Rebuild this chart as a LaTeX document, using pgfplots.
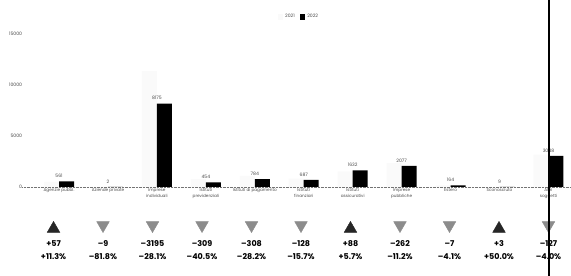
\documentclass[border=0pt]{standalone}
\usepackage{pgfplots}
\pgfplotsset{compat=1.18}
\usepackage{fontspec}
\setmainfont{Poppins}

\pgfplotstableread{
x    y2021  y2022
0    504    561
1    11     2
2    11370  8175
3    763    454
4    1092   784
5    815    687
6    1544   1632
7    2339   2077
8    171    164
9    6      9
10   3175   3048
}\datatable

\begin{document}
\begin{tikzpicture}
\begin{axis}[
  at={(22.3pt,89pt)}, anchor=south west,
  scale only axis, width=548.7pt, height=163.2pt,
  xmin=-0.75, xmax=10.46, ymin=0, ymax=16000,
  axis line style={draw=none}, tick style={draw=none},
  clip=false,
  scaled y ticks=false,
  xtick={0,...,10},
  xticklabels={{Agenzie pubbl.},{Aziende private},{Imprese\\individuali},{Istituti\\previdenziali},{Istituti di pagamento},{Istituti\\finanziari},{Istituti\\assicurativi},{Imprese\\pubbliche},{Estero},{Sconosciuto},{Altri\\soggetti}},
  xticklabel style={align=center, font=\fontsize{4.2}{5.5}\selectfont, text=black!70, inner sep=1.5pt},
  ytick={0,5000,10000,15000},
  yticklabel style={font=\fontsize{4.6}{5}\selectfont, text=black!70, anchor=east, inner sep=0pt},
  /pgf/number format/1000 sep={},
  /pgf/number format/assume math mode=true,
  legend columns=2,
  legend style={at={(0.504,1.042)}, anchor=center, draw=none, fill=none,
    font=\fontsize{4.6}{5}\selectfont, text=black!70,
    /tikz/every even column/.append style={column sep=3pt}},
  legend image code/.code={\fill[#1] (0pt,-2.8pt) rectangle (5.5pt,2.8pt);},
]
\draw[black!55, densely dotted] (axis cs:-0.75,0) -- (axis cs:10.46,0);
\addplot[ybar, bar width=15pt, bar shift=-7.5pt, fill=black!2, draw=none]
  table[x=x, y=y2021] {\datatable};
\addplot[ybar, bar width=15pt, bar shift=7.5pt, fill=black, draw=none,
  nodes near coords,
  nodes near coords style={font=\fontsize{4.6}{5}\selectfont, text=black!70,
    /pgf/number format/1000 sep={}, /pgf/number format/assume math mode=true}]
  table[x=x, y=y2022] {\datatable};
\legend{2021,2022}

% change indicators
\addplot[only marks, mark=triangle*, mark size=7.3pt, black!85, forget plot]
  coordinates {(-0.112,-4090) (5.955,-4090) (8.989,-4090)};
\addplot[only marks, mark=triangle*, mark size=7.3pt, black!45,
  mark options={rotate=180}, forget plot]
  coordinates {(0.899,-3750) (1.910,-3750) (2.922,-3750) (3.933,-3750)
    (4.944,-3750) (6.966,-3750) (7.978,-3750) (10.0,-3750)};
\addplot[draw=none, forget plot, nodes near coords, point meta=explicit symbolic,
  nodes near coords style={anchor=center, font=\fontsize{8}{9}\selectfont\bfseries, text=black}]
  coordinates {(-0.112,-5588) [+57] (0.899,-5588) [--9] (1.910,-5588) [--3195]
    (2.922,-5588) [--309] (3.933,-5588) [--308] (4.944,-5588) [--128]
    (5.955,-5588) [+88] (6.966,-5588) [--262] (7.978,-5588) [--7]
    (8.989,-5588) [+3] (10.0,-5588) [--127]};
\addplot[draw=none, forget plot, nodes near coords, point meta=explicit symbolic,
  nodes near coords style={anchor=center, font=\fontsize{8}{9}\selectfont\bfseries, text=black}]
  coordinates {(-0.112,-6863) [+11.3\%] (0.899,-6863) [--81.8\%] (1.910,-6863) [--28.1\%]
    (2.922,-6863) [--40.5\%] (3.933,-6863) [--28.2\%] (4.944,-6863) [--15.7\%]
    (5.955,-6863) [+5.7\%] (6.966,-6863) [--11.2\%] (7.978,-6863) [--4.1\%]
    (8.989,-6863) [+50.0\%] (10.0,-6863) [--4.0\%]};
\end{axis}
\draw[line width=1.6pt] (549pt,0pt) -- (549pt,276pt);
\pgfresetboundingbox
\useasboundingbox (0pt,0pt) rectangle (571pt,276pt);
\end{tikzpicture}
\end{document}
